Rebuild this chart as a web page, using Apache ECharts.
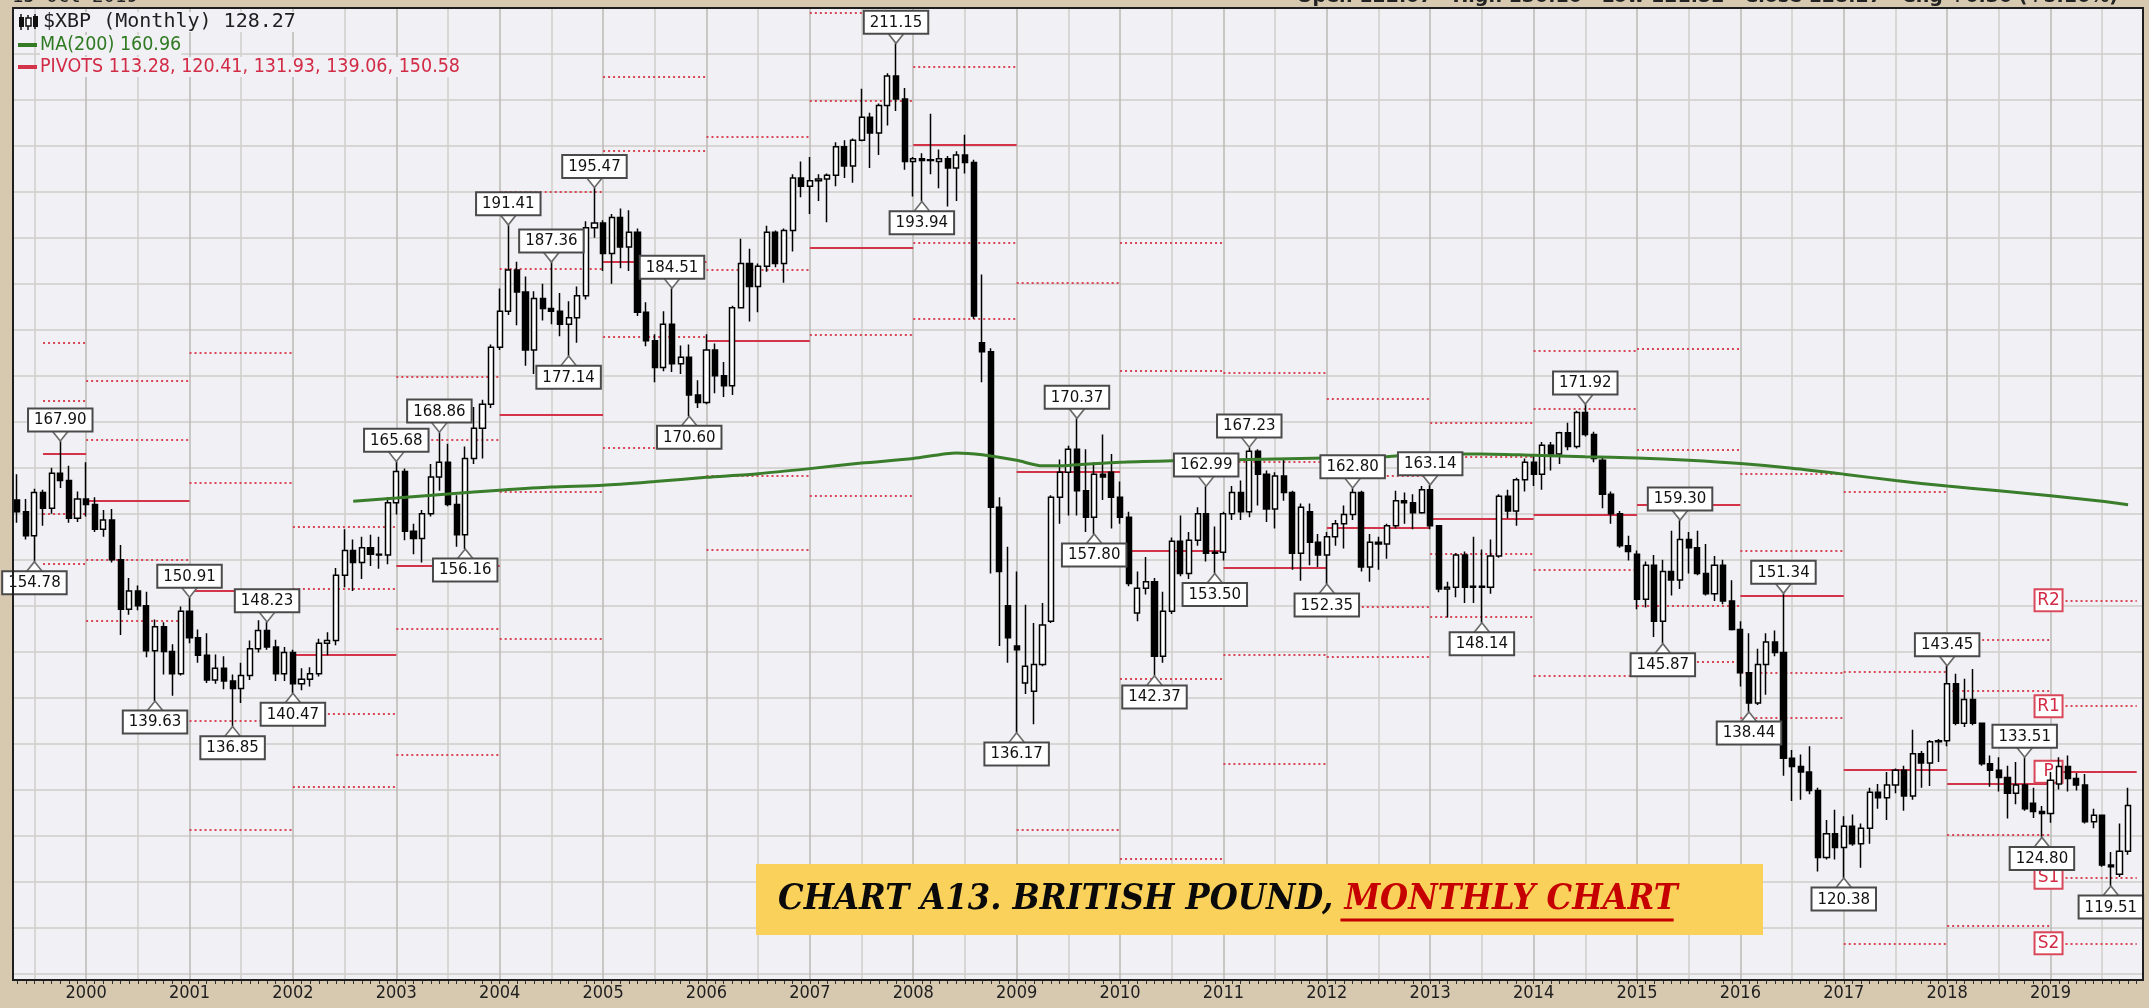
<!DOCTYPE html>
<html><head><meta charset="utf-8">
<script src="https://cdn.jsdelivr.net/npm/echarts@6/dist/echarts.min.js"></script>
<style>html,body{margin:0;padding:0;background:#d7c8b0;overflow:hidden}#c{width:2149px;height:1008px}</style>
</head><body><div id="c"></div>
<script>
// ---------- DATA ----------
// monthly candles [open, close, low, high]
const y1999 = [ // May..Dec
 [161.5,160.2,159.0,164.3],[160.2,157.6,157.2,161.6],[157.6,162.3,154.78,162.7],[162.3,160.6,158.7,162.6],
 [160.6,164.4,160.0,165.0],[164.4,163.6,162.8,167.90],[163.6,159.5,159.0,165.2],[159.5,161.6,159.1,162.4]];
const y2000 = [[161.6,161.0,159.7,165.6],[161.0,158.3,158.0,161.8],[158.3,159.3,157.5,160.4],[159.3,155.0,154.7,160.5],
 [155.0,149.6,146.8,156.6],[149.6,151.6,149.0,153.0],[151.6,150.0,149.5,152.2],[150.0,145.1,144.4,151.5],
 [145.1,147.7,139.63,148.5],[147.7,145.0,142.5,148.2],[145.0,142.6,140.2,145.8],[142.6,149.4,142.4,149.9]];
const y2001 = [[149.4,146.5,145.9,150.91],[146.5,144.6,143.8,147.4],[144.6,141.9,141.6,147.0],[141.9,143.2,141.5,144.7],
 [143.2,141.8,140.9,144.5],[141.8,141.0,136.85,142.5],[141.0,142.4,139.4,143.8],[142.4,145.3,141.9,146.2],
 [145.3,147.3,144.9,148.4],[147.3,145.5,145.2,148.23],[145.5,142.6,141.8,146.3],[142.6,144.9,141.8,145.5]];
const y2002 = [[144.9,141.5,140.47,145.2],[141.5,142.0,140.8,143.2],[142.0,142.6,141.2,143.3],[142.6,145.9,142.3,146.4],
 [145.9,146.2,144.6,147.1],[146.2,153.3,145.7,154.1],[153.3,156.0,152.0,158.3],[156.0,154.7,151.6,157.2],
 [154.7,156.3,152.9,157.5],[156.3,155.6,154.3,157.7],[155.6,155.5,154.0,157.5],[155.5,161.2,154.5,161.8]];
const y2003 = [[161.2,164.6,159.9,165.68],[164.6,158.1,157.1,164.9],[158.1,157.3,155.6,158.9],[157.3,160.0,154.7,160.4],
 [160.0,164.0,159.7,165.4],[164.0,165.6,162.5,168.86],[165.6,161.0,160.8,167.6],[161.0,157.7,156.4,162.0],
 [157.7,166.0,156.16,167.3],[166.0,169.3,165.4,171.6],[169.3,171.9,166.0,172.4],[171.9,178.1,171.5,178.4]];
const y2004 = [[178.1,182.0,177.8,184.5],[182.0,186.5,181.6,191.41],[186.5,184.1,180.5,187.4],[184.1,177.8,176.1,185.8],
 [177.8,183.4,175.2,184.2],[183.4,182.3,181.0,185.0],[182.3,182.0,180.6,187.36],[182.0,180.6,179.3,184.0],
 [180.6,181.3,177.14,183.1],[181.3,183.7,178.6,184.7],[183.7,191.1,183.3,191.8],[191.1,191.6,190.0,195.47]];
const y2005 = [[191.6,188.3,186.4,191.9],[188.3,192.2,185.0,192.6],[192.2,189.0,186.7,193.2],[189.0,190.6,186.4,193.0],
 [190.6,181.9,181.5,191.0],[181.9,178.8,178.2,183.0],[178.8,175.9,174.3,179.5],[175.9,180.6,175.5,182.0],
 [180.6,176.3,175.4,184.51],[176.3,177.0,175.2,178.3],[177.0,172.9,170.60,178.4],[172.9,172.1,171.5,174.5]];
const y2006 = [[172.1,177.8,171.9,179.5],[177.8,175.0,173.1,178.5],[175.0,173.9,172.7,176.5],[173.9,182.4,172.9,182.6],
 [182.4,187.2,182.3,189.9],[187.2,184.7,180.9,188.8],[184.7,186.9,181.9,187.2],[186.9,190.6,186.3,191.3],
 [190.6,187.2,186.8,190.8],[187.2,190.8,185.1,191.0],[190.8,196.5,188.5,196.9],[196.5,195.6,194.4,198.3]];
const y2007 = [[195.6,196.2,192.6,198.8],[196.2,196.4,194.0,196.9],[196.4,196.8,191.7,197.0],[196.8,199.9,195.6,200.4],
 [199.9,197.8,196.5,200.6],[197.8,200.6,196.0,200.8],[200.6,203.1,200.5,206.2],[203.1,201.4,197.6,203.6],
 [201.4,204.4,199.0,204.6],[204.4,207.6,202.2,207.9],[207.6,205.1,203.8,211.15],[205.1,198.3,197.4,206.3]];
const y2008 = [[198.3,198.6,194.5,198.8],[198.6,198.4,193.94,199.2],[198.4,198.5,196.9,203.5],[198.3,198.6,195.4,199.6],
 [198.6,197.6,193.4,198.9],[197.6,199.0,194.0,199.4],[199.0,198.2,197.0,201.2],[198.2,181.5,181.2,198.5],
 [178.6,177.6,174.3,186.0],[177.6,160.7,153.5,178.0],[160.7,153.7,145.6,161.8],[150.0,146.5,143.8,156.4]];
const y2009 = [[145.6,145.2,136.17,153.7],[141.6,143.4,140.4,150.1],[140.7,143.6,137.1,148.1],[143.6,147.9,143.4,150.3],
 [148.3,161.8,148.1,162.0],[161.8,164.5,158.9,165.9],[164.5,167.0,159.8,167.4],[167.0,162.5,159.8,170.37],
 [162.5,159.6,158.0,167.0],[159.6,164.3,157.80,165.6],[164.3,164.0,161.5,168.6],[164.5,161.8,158.4,166.5]];
const y2010 = [[161.8,159.6,158.9,163.5],[159.6,152.4,152.1,160.2],[149.2,151.9,148.3,153.7],[151.9,152.6,151.2,155.3],
 [152.6,144.5,142.37,153.0],[144.5,149.4,143.8,151.5],[149.4,157.0,149.1,157.4],[157.0,153.5,153.2,159.8],
 [153.5,157.1,152.9,158.0],[157.1,160.0,156.5,160.7],[160.0,155.7,154.8,162.99],[155.7,155.8,153.50,158.6]];
const y2011 = [[155.8,160.0,154.9,160.2],[160.0,162.3,159.3,163.0],[162.3,160.2,159.3,163.6],[160.2,166.8,159.6,167.23],
 [166.8,164.3,160.9,167.0],[164.3,160.5,159.1,164.7],[160.5,164.1,158.4,164.5],[164.1,162.3,161.4,165.9],
 [162.3,155.7,153.9,162.5],[155.7,160.7,152.7,161.1],[160.2,156.9,154.4,161.1],[156.9,155.5,154.2,157.8]];
const y2012 = [[155.5,157.5,152.35,158.0],[157.5,158.9,156.5,159.3],[158.9,159.9,156.2,160.9],[159.9,162.3,159.3,162.80],
 [162.3,154.2,153.7,162.5],[154.2,156.9,152.6,157.8],[156.9,156.7,153.9,157.5],[156.7,158.7,155.1,158.9],
 [158.7,161.4,158.4,162.5],[161.4,161.2,158.9,162.3],[161.2,160.1,158.3,162.1],[160.1,162.6,160.0,163.0]];
const y2013 = [[162.6,158.7,158.3,163.14],[158.7,151.8,151.45,158.7],[151.8,152.0,148.7,152.6],[152.0,155.5,150.9,155.7],
 [155.5,152.0,150.3,155.9],[152.0,152.1,150.3,157.5],[152.1,152.0,148.14,156.1],[152.0,155.4,151.3,157.2],
 [155.4,161.9,155.2,162.1],[161.9,160.3,159.5,162.6],[160.3,163.7,158.7,163.9],[163.7,165.6,162.4,166.0]];
const y2014 = [[165.6,164.3,163.0,166.4],[164.3,167.45,162.6,167.8],[167.45,166.5,164.7,167.8],[166.5,168.8,165.4,168.9],
 [168.8,167.3,166.9,169.9],[167.3,171.0,167.1,171.2],[171.0,168.6,168.4,171.92],[168.6,166.0,165.6,168.9],
 [165.8,162.1,160.6,166.2],[162.1,160.0,158.9,162.4],[160.0,156.5,156.3,160.3],[156.5,155.9,154.9,157.6]];
const y2015 = [[155.6,150.7,149.6,156.0],[150.7,154.4,149.8,154.8],[154.4,148.3,146.6,155.5],[148.3,153.7,145.87,155.0],
 [153.7,152.8,151.1,158.15],[152.8,157.2,151.8,159.30],[157.2,156.3,153.5,158.0],[156.3,153.5,153.3,158.15],
 [153.5,151.3,151.1,156.7],[151.3,154.4,150.5,155.4],[154.4,150.5,150.15,155.0],[150.5,147.4,147.3,152.75]];
const y2016 = [[147.4,142.7,141.2,148.3],[142.7,139.4,138.44,147.0],[139.4,143.6,139.2,145.3],[143.6,146.05,140.3,147.0],
 [146.05,144.9,144.5,147.3],[144.9,133.4,131.5,151.34],[133.4,132.5,128.75,134.3],[132.5,131.9,128.9,133.8],
 [131.9,129.9,129.5,134.7],[129.9,122.6,121.1,130.2],[122.6,125.2,122.4,126.7],[125.2,123.7,122.4,127.8]];
const y2017 = [[123.7,126.0,120.38,127.1],[126.0,124.1,123.9,127.3],[124.1,125.8,121.5,126.3],[125.8,129.7,124.1,130.2],
 [129.7,129.1,127.9,130.6],[129.1,130.5,126.7,131.9],[130.5,132.1,129.6,132.3],[132.1,129.3,127.7,132.6],
 [129.3,133.9,128.9,136.5],[133.9,132.9,130.2,134.2],[132.9,135.2,130.4,135.4],[135.2,135.3,133.0,135.5]];
const y2018 = [[135.3,141.5,134.7,143.45],[141.5,137.2,137.0,142.6],[137.2,139.8,136.8,142.05],[139.8,137.2,137.0,143.1],
 [137.2,132.8,132.6,137.3],[132.8,132.1,130.3,133.7],[132.1,131.3,129.8,133.5],[131.3,129.6,126.85,132.6],
 [129.6,130.5,128.4,133.0],[130.5,127.9,127.7,133.51],[128.5,127.6,126.9,130.2],[127.6,127.4,124.80,128.2]];
const y2019 = [ // Jan..Oct
 [127.4,131.0,126.4,131.9],[130.6,132.5,130.0,133.5],[132.5,131.2,129.8,133.7],[131.2,130.5,129.9,131.8],
 [130.5,126.5,126.3,131.7],[126.5,127.2,125.8,127.9],[127.2,121.8,121.6,127.3],[121.8,121.6,119.51,123.2],
 [120.8,123.3,120.5,126.3],[123.3,128.27,122.9,130.2]];

// MA(200) line, read at sample months
const maDates  = ['2002-08','2003-01','2003-07','2004-01','2004-07','2005-01','2005-07','2006-01','2006-07','2007-01','2007-07',
  '2008-01','2008-06','2008-09','2009-01','2009-04','2009-07','2010-01','2010-07','2011-01','2011-07','2012-01','2012-07',
  '2013-01','2013-07','2014-01','2014-07','2015-01','2015-07','2016-01','2016-07','2017-01','2017-07','2018-01','2018-07',
  '2019-01','2019-07','2019-10'];
const maValues = [161.35,161.7,162.15,162.55,162.9,163.1,163.5,163.95,164.35,164.9,165.5,
  166.0,166.6,166.4,165.8,165.2,165.25,165.6,165.75,165.85,165.95,166.05,166.15,
  166.5,166.5,166.35,166.2,166.05,165.8,165.45,164.95,164.3,163.6,163.0,162.5,
  161.95,161.35,160.96];

// yearly pivots (null = off the chart)
const pivotYears = [1999,2000,2001,2002,2003,2004,2005,2006,2007,2008,2009,2010,2011,2012,2013,2014,2015,2016,2017,2018,2019];
const pivR2 = [178.63,174.47,177.5,158.58,174.86,195.0,207.5,200.97,214.5,null,null,189.5,175.32,172.5,169.87,177.7,177.95,164.29,162.43,146.32,150.58];
const pivR1 = [172.28,168.05,163.4,151.88,168.05,186.6,199.43,186.5,204.9,208.65,185.13,175.55,165.64,164.1,166.2,171.36,166.97,155.92,142.8,140.76,139.06];
const pivP  = [166.51,161.39,151.6,144.64,154.34,170.8,187.39,178.82,188.93,200.1,164.56,155.97,154.08,158.48,159.45,159.83,160.94,151.04,132.1,130.62,131.93];
const pivS1 = [160.04,155.04,137.5,138.29,147.53,162.35,179.28,164.1,179.42,189.5,125.6,142.02,144.63,149.9,155.66,153.87,149.96,142.71,113.2,125.1,120.41];
const pivS2 = [154.57,148.38,125.6,130.3,133.82,146.4,167.2,156.07,162.0,181.2,null,122.5,132.84,144.4,148.77,142.41,143.9,137.76,null,115.14,113.28];

// annotated highs / lows
const highLabels = [['1999-10',167.90],['2001-01',150.91],['2001-10',148.23],['2003-01',165.68],['2003-06',168.86],
  ['2004-02',191.41],['2004-07',187.36],['2004-12',195.47],['2005-09',184.51],['2007-11',211.15],['2009-08',170.37],
  ['2010-11',162.99],['2011-04',167.23],['2012-04',162.80],['2013-01',163.14],['2014-07',171.92],['2015-06',159.30],
  ['2016-06',151.34],['2018-01',143.45],['2018-10',133.51]];
const lowLabels = [['1999-07',154.78],['2000-09',139.63],['2001-06',136.85],['2002-01',140.47],['2003-09',156.16],
  ['2004-09',177.14],['2005-11',170.60],['2008-02',193.94],['2009-01',136.17],['2009-10',157.80],['2010-05',142.37],
  ['2010-12',153.50],['2012-01',152.35],['2013-07',148.14],['2015-04',145.87],['2016-02',138.44],['2017-01',120.38],
  ['2018-12',124.80],['2019-08',119.51]];

const legendTexts = ['$XBP (Monthly) 128.27', 'MA(200) 160.96', 'PIVOTS 113.28, 120.41, 131.93, 139.06, 150.58'];
const headerLeft = '15-Oct-2019';
const headerRight = 'Open 122.07   High 130.10   Low 121.52   Close 128.27   Chg +6.30 (+5.16%)';
const titleBlack = 'CHART A13. BRITISH POUND, ';
const titleRed = 'MONTHLY CHART';

// ---------- BUILD ----------
const categories = [];
for (let y = 1999, m = 5; !(y === 2019 && m === 12);) {
  categories.push(y + '-' + String(m).padStart(2, '0'));
  m++; if (m > 12) { m = 1; y++; }
}
const ohlc = [].concat(y1999,y2000,y2001,y2002,y2003,y2004,y2005,y2006,y2007,y2008,y2009,
  y2010,y2011,y2012,y2013,y2014,y2015,y2016,y2017,y2018,y2019);

const RED = '#d3344a';
const levels = [['R2', pivR2, false], ['R1', pivR1, false], ['P', pivP, true], ['S1', pivS1, false], ['S2', pivS2, false]];
const pivotLines = [];
pivotYears.forEach((yr, i) => {
  const start = yr === 1999 ? '1999-08' : yr + '-01';
  const end = yr === 2019 ? '2019-11' : (yr + 1) + '-01';
  levels.forEach(([name, arr, solid]) => {
    const v = arr[i];
    if (v == null) return;
    pivotLines.push([
      { name: name, coord: [start, v],
        lineStyle: solid ? { type: 'solid', color: RED, width: 2 } : { type: [2, 3], color: '#da4656', width: 2 },
        label: { show: yr === 2019 } },
      { coord: [end, v] }
    ]);
  });
});

const isJan = (v) => v.slice(5) === '01';
const isJanJul = (v) => v.slice(5) === '01' || v.slice(5) === '07';

// title measurement
const cv = document.createElement('canvas').getContext('2d');
const tFont = (s) => 'italic bold ' + s + 'px "DejaVu Serif Condensed", "DejaVu Serif", serif';
let tfs = 38;
cv.font = tFont(tfs);
let tw = cv.measureText(titleBlack + titleRed).width;
tfs = Math.min(38, tfs * 900 / tw);
cv.font = tFont(tfs);
const w1 = cv.measureText(titleBlack).width;
const w2 = cv.measureText(titleRed).width;
const tx0 = 778;

const condFont = '"DejaVu Sans Condensed", "DejaVu Sans", sans-serif';

const graphics = [
  { type: 'text', z: -20, silent: true, style: { x: 12, y: 7, text: headerLeft, font: '19px "DejaVu Sans Mono", monospace', fill: '#222', textAlign: 'left', align: 'left', textVerticalAlign: 'bottom', verticalAlign: 'bottom' } },
  { type: 'text', z: -20, silent: true, style: { x: 2118, y: 7, text: headerRight, font: 'bold 19px "DejaVu Sans", sans-serif', fill: '#222', textAlign: 'right', align: 'right', textVerticalAlign: 'bottom', verticalAlign: 'bottom' } },
  { type: 'rect', z: -10, silent: true, shape: { x: 13, y: 8, width: 2130, height: 972 }, style: { fill: '#f0f0f5' } },
  { type: 'rect', z: 50, silent: true, shape: { x: 13, y: 8, width: 2130, height: 972 }, style: { fill: null, stroke: '#1e1e1e', lineWidth: 2 } },
  // legend icon
  { type: 'line', z: 30, silent: true, shape: { x1: 21, y1: 14, x2: 21, y2: 30 }, style: { stroke: '#111', lineWidth: 1.5 } },
  { type: 'rect', z: 30, silent: true, shape: { x: 19, y: 17, width: 5, height: 10 }, style: { fill: '#111' } },
  { type: 'line', z: 30, silent: true, shape: { x1: 28, y1: 15, x2: 28, y2: 30 }, style: { stroke: '#111', lineWidth: 1.5 } },
  { type: 'rect', z: 30, silent: true, shape: { x: 26, y: 18, width: 5, height: 8 }, style: { fill: '#fff', stroke: '#111', lineWidth: 1.5 } },
  { type: 'line', z: 30, silent: true, shape: { x1: 35, y1: 14, x2: 35, y2: 29 }, style: { stroke: '#111', lineWidth: 1.5 } },
  { type: 'rect', z: 30, silent: true, shape: { x: 33, y: 16, width: 5, height: 11 }, style: { fill: '#111' } },
  { type: 'text', z: 30, silent: true, style: { x: 43, y: 22, text: legendTexts[0], font: '20px "DejaVu Sans Mono", monospace', fill: '#1e1e1e', backgroundColor: '#f0f0f5', textAlign: 'left', align: 'left', textVerticalAlign: 'middle', verticalAlign: 'middle' } },
  { type: 'rect', z: 30, silent: true, shape: { x: 18, y: 43, width: 19, height: 4 }, style: { fill: '#357a25' } },
  { type: 'text', z: 30, silent: true, style: { x: 40, y: 45, text: legendTexts[1], font: '19.5px ' + condFont, fill: '#2f7a22', backgroundColor: '#f0f0f5', textAlign: 'left', align: 'left', textVerticalAlign: 'middle', verticalAlign: 'middle' } },
  { type: 'rect', z: 30, silent: true, shape: { x: 18, y: 65, width: 19, height: 4 }, style: { fill: RED } },
  { type: 'text', z: 30, silent: true, style: { x: 40, y: 67, text: legendTexts[2], font: '19.5px ' + condFont, fill: '#d22b46', backgroundColor: '#f0f0f5', textAlign: 'left', align: 'left', textVerticalAlign: 'middle', verticalAlign: 'middle' } },
  // title box
  { type: 'rect', z: 40, silent: true, shape: { x: 756, y: 864, width: 1007, height: 71 }, style: { fill: '#f9d15b' } },
  { type: 'text', z: 41, silent: true, style: { x: tx0, y: 900, text: titleBlack, font: tFont(tfs), fill: '#0a0a0a', textAlign: 'left', align: 'left', textVerticalAlign: 'middle', verticalAlign: 'middle' } },
  { type: 'text', z: 41, silent: true, style: { x: tx0 + w1, y: 900, text: titleRed, font: tFont(tfs), fill: '#c60000', textAlign: 'left', align: 'left', textVerticalAlign: 'middle', verticalAlign: 'middle' } },
  { type: 'line', z: 41, silent: true, shape: { x1: tx0 + w1 - 4, y1: 920, x2: tx0 + w1 + w2 - 4, y2: 920 }, style: { stroke: '#c60000', lineWidth: 3 } }
];

const labelBox = {
  show: true, distance: 0, formatter: (p) => p.value[1].toFixed(2),
  backgroundColor: '#ffffff', borderColor: '#4a4a4a', borderWidth: 2, padding: [3, 5, 2, 5],
  fontSize: 15, lineHeight: 16, fontFamily: '"DejaVu Sans", sans-serif', color: '#111'
};

const option = {
  animation: false,
  backgroundColor: '#d7c8b0',
  graphic: { elements: graphics },
  grid: [
    { left: 17.2, right: 12.3, top: 8, bottom: 28, containLabel: false, outerBoundsMode: 'none', show: false },
    { left: 13, right: 6, top: 53.88, bottom: 34.52, containLabel: false, outerBoundsMode: 'none', show: false }
  ],
  xAxis: [
    { type: 'category', gridIndex: 0, data: categories, boundaryGap: false,
      axisLine: { show: false },
      axisTick: { show: true, interval: 0, length: 4, lineStyle: { color: '#333', width: 1 } },
      axisLabel: { show: true, interval: (i, v) => isJan(v), formatter: (v) => v.slice(0, 4), margin: 4,
        fontSize: 18, color: '#1e1e1e', fontFamily: '"Liberation Sans Narrow", "DejaVu Sans Condensed", sans-serif',
        hideOverlap: false },
      splitLine: { show: true, interval: (i, v) => isJanJul(v), lineStyle: { color: ['#d1cfca', '#bdbab3'], width: 1.5 } }
    },
    { type: 'value', gridIndex: 1, min: 0, max: 1, show: false }
  ],
  yAxis: [
    { type: 'value', gridIndex: 0, min: 109.29, max: 214.99, show: false, splitLine: { show: false } },
    { type: 'value', gridIndex: 1, min: 110, max: 210, interval: 5,
      axisLine: { show: false }, axisTick: { show: false }, axisLabel: { show: false },
      splitLine: { show: true, lineStyle: { color: '#d0cec9', width: 1.5 } } }
  ],
  series: [
    { type: 'candlestick', name: '$XBP', xAxisIndex: 0, yAxisIndex: 0, data: ohlc, clip: false, barWidth: 5.6, z: 5,
      itemStyle: { color: '#ffffff', color0: '#000000', borderColor: '#000000', borderColor0: '#000000', borderColorDoji: '#000000', borderWidth: 1.5 },
      emphasis: { disabled: true }, silent: true,
      markLine: { silent: true, symbol: ['none', 'none'], animation: false, z: 3,
        label: { show: false, position: 'start', distance: 2, formatter: '{b}', color: '#d22b46', fontSize: 17,
          fontFamily: '"DejaVu Sans", sans-serif', backgroundColor: '#fff', borderColor: '#d9485a', borderWidth: 2,
          padding: [1, 3, 0, 3], width: 20, align: 'center', lineHeight: 19 },
        emphasis: { disabled: true },
        data: pivotLines }
    },
    { type: 'line', name: 'MA(200)', xAxisIndex: 0, yAxisIndex: 0, data: maDates.map((d, i) => [d, maValues[i]]),
      showSymbol: false, smooth: 0.25, clip: false, z: 6, silent: true,
      lineStyle: { color: '#3a7d2b', width: 3 } },
    { type: 'scatter', name: 'highs', xAxisIndex: 0, yAxisIndex: 0, data: highLabels, clip: false, z: 20, silent: true,
      symbol: 'path://M0,0L20,0L10,12Z', symbolSize: [16, 10], symbolOffset: [0, -5],
      itemStyle: { color: '#ffffff', borderColor: '#6a6a6a', borderWidth: 1.5, opacity: 1 },
      label: Object.assign({ position: 'top' }, labelBox) },
    { type: 'scatter', name: 'lows', xAxisIndex: 0, yAxisIndex: 0, data: lowLabels, clip: false, z: 20, silent: true,
      symbol: 'path://M10,0L20,12L0,12Z', symbolSize: [16, 10], symbolOffset: [0, 5],
      itemStyle: { color: '#ffffff', borderColor: '#6a6a6a', borderWidth: 1.5, opacity: 1 },
      label: Object.assign({ position: 'bottom' }, labelBox) }
  ]
};

const chart = echarts.init(document.getElementById('c'), null, { renderer: 'canvas', width: 2149, height: 1008 });
chart.setOption(option);
</script>
</body></html>
